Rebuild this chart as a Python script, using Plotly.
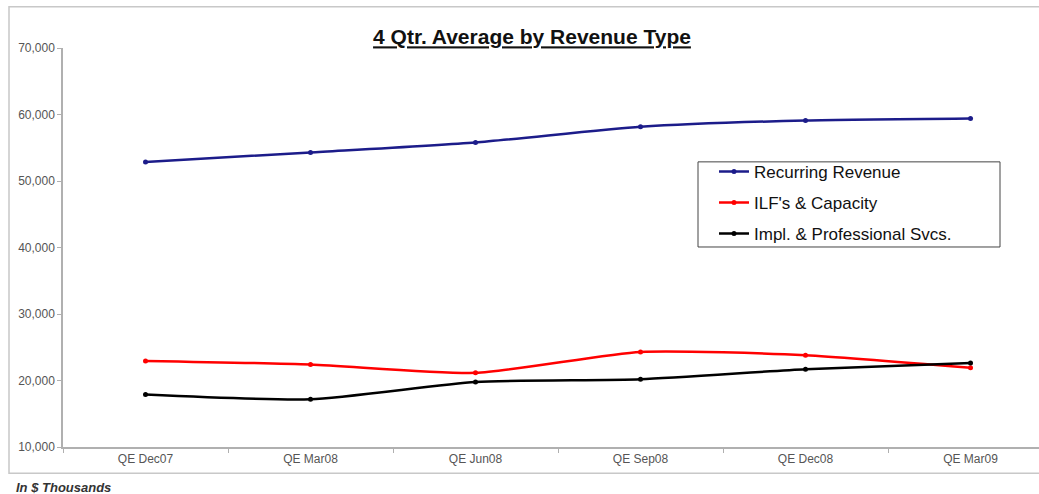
import plotly.graph_objects as go

categories = ["QE Dec07", "QE Mar08", "QE Jun08", "QE Sep08", "QE Dec08", "QE Mar09"]
recurring = [52860, 54300, 55800, 58150, 59100, 59400]
ilf_capacity = [22950, 22400, 21150, 24300, 23800, 21900]
impl_prof = [17900, 17180, 19780, 20200, 21700, 22650]
y_ticks = [10000, 20000, 30000, 40000, 50000, 60000, 70000]

series = [
    ("Recurring Revenue", recurring, "#1c1c8a"),
    ("ILF's & Capacity", ilf_capacity, "#ff0000"),
    ("Impl. & Professional Svcs.", impl_prof, "#000000"),
]

fig = go.Figure()
for i, (name, vals, col) in enumerate(series):
    fig.add_trace(go.Scatter(
        x=categories, y=vals, name=name, mode="lines+markers",
        line=dict(color=col, width=2.5, shape="spline", smoothing=0.6),
        marker=dict(color=col, size=5),
        legendgroup=f"g{i}",
    ))

font_family = "Liberation Sans, Arial, sans-serif"

fig.update_layout(
    width=1039, height=494,
    margin=dict(l=63, r=0, t=48, b=47),
    paper_bgcolor="white", plot_bgcolor="white",
    font=dict(family=font_family, color="#555555", size=12),
    title=dict(
        text="<b><u>4 Qtr. Average by Revenue Type</u></b>",
        x=532 / 1039, xanchor="center", y=1 - 37 / 494, yanchor="middle",
        font=dict(size=21, color="#111111", family=font_family),
    ),
    showlegend=True,
    legend=dict(
        x=(714 - 63) / 976, xanchor="left",
        y=(446.7 - 154) / 398.4, yanchor="top",
        bgcolor="rgba(0,0,0,0)", borderwidth=0,
        font=dict(size=17, color="#111111", family=font_family),
        tracegroupgap=6,
        itemwidth=30,
    ),
    xaxis=dict(
        type="category", range=[-0.5, 5.415],
        showline=True, linecolor="#b0b0b0", linewidth=1.5,
        ticks="outside", ticklen=4, tickcolor="#b0b0b0",
        tickson="boundaries", showgrid=False, zeroline=False,
        tickfont=dict(size=12, color="#555555"),
    ),
    yaxis=dict(
        range=[10000, 70000], tickvals=y_ticks, tickformat=",d",
        showline=True, linecolor="#b0b0b0", linewidth=1.5,
        ticks="outside", ticklen=4, tickcolor="#b0b0b0",
        showgrid=False, zeroline=False,
        tickfont=dict(size=12, color="#555555"),
    ),
    shapes=[
        dict(type="rect", xref="paper", yref="paper",
             x0=(9 - 63) / 976, x1=(1045 - 63) / 976,
             y0=(446.7 - 473) / 398.4, y1=(446.7 - 7) / 398.4,
             line=dict(color="#c8c8c8", width=1.5), layer="below"),
        dict(type="rect", xref="paper", yref="paper",
             x0=(698 - 63) / 976, x1=(1000 - 63) / 976,
             y0=(446.7 - 247) / 398.4, y1=(446.7 - 162) / 398.4,
             line=dict(color="#444444", width=1)),
    ],
    annotations=[
        dict(text="<b><i>In $ Thousands</i></b>", xref="paper", yref="paper",
             x=(14 - 63) / 976, y=(446.7 - 487) / 398.4,
             xanchor="left", yanchor="middle", showarrow=False,
             font=dict(size=13, color="#333333", family=font_family)),
    ],
)

fig.write_html("out.html")
